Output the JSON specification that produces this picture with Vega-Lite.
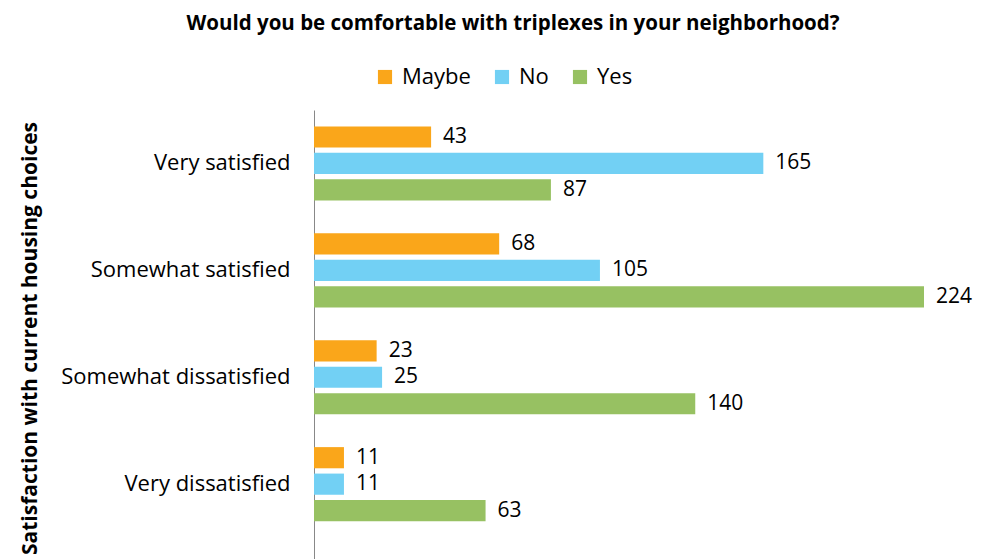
{
  "$schema": "https://vega.github.io/schema/vega-lite/v6.json",
  "autosize": "none",
  "width": 610,
  "height": 449,
  "padding": {"left": 314, "top": 110, "right": 65, "bottom": 0},
  "background": "white",
  "title": {
    "text": "Would you be comfortable with triplexes in your neighborhood?",
    "font": "Open Sans",
    "fontSize": 20.5,
    "fontWeight": "bold",
    "color": "#000000",
    "anchor": "middle",
    "frame": "group",
    "dx": -106,
    "offset": 32
  },
  "data": {
    "values": [
      {"satisfaction": "Very satisfied", "answer": "Maybe", "count": 43},
      {"satisfaction": "Very satisfied", "answer": "No", "count": 165},
      {"satisfaction": "Very satisfied", "answer": "Yes", "count": 87},
      {"satisfaction": "Somewhat satisfied", "answer": "Maybe", "count": 68},
      {"satisfaction": "Somewhat satisfied", "answer": "No", "count": 105},
      {"satisfaction": "Somewhat satisfied", "answer": "Yes", "count": 224},
      {"satisfaction": "Somewhat dissatisfied", "answer": "Maybe", "count": 23},
      {"satisfaction": "Somewhat dissatisfied", "answer": "No", "count": 25},
      {"satisfaction": "Somewhat dissatisfied", "answer": "Yes", "count": 140},
      {"satisfaction": "Very dissatisfied", "answer": "Maybe", "count": 11},
      {"satisfaction": "Very dissatisfied", "answer": "No", "count": 11},
      {"satisfaction": "Very dissatisfied", "answer": "Yes", "count": 63}
    ]
  },
  "encoding": {
    "y": {
      "field": "satisfaction",
      "type": "nominal",
      "sort": ["Very satisfied", "Somewhat satisfied", "Somewhat dissatisfied", "Very dissatisfied"],
      "scale": {"paddingInner": 0, "paddingOuter": 0.1, "align": 0},
      "axis": {
        "title": "Satisfaction with current housing choices",
        "titleFont": "Open Sans",
        "titleFontSize": 21,
        "titleFontWeight": "bold",
        "titleColor": "#000000",
        "titleAngle": -90,
        "titleAlign": "center",
        "titleBaseline": "middle",
        "titleX": -284,
        "titleY": 228,
        "labelFont": "Open Sans",
        "labelFontSize": 22,
        "labelColor": "#000000",
        "labelPadding": 24,
        "labelLimit": 400,
        "ticks": false,
        "domainColor": "#888888",
        "domainWidth": 1,
        "grid": false
      }
    },
    "yOffset": {
      "field": "answer",
      "type": "nominal",
      "sort": ["Maybe", "No", "Yes"],
      "scale": {"paddingInner": 0.2, "paddingOuter": 0.62}
    },
    "x": {
      "field": "count",
      "type": "quantitative",
      "scale": {"domain": [0, 224], "nice": false, "zero": true},
      "axis": null
    }
  },
  "layer": [
    {
      "mark": {"type": "bar"},
      "encoding": {
        "color": {
          "field": "answer",
          "type": "nominal",
          "sort": ["Maybe", "No", "Yes"],
          "scale": {"domain": ["Maybe", "No", "Yes"], "range": ["#FAA61A", "#72D0F4", "#97C162"]},
          "legend": {
            "title": null,
            "orient": "none",
            "direction": "horizontal",
            "legendX": 60,
            "legendY": -44,
            "symbolType": "square",
            "symbolSize": 200,
            "symbolStrokeWidth": 0,
            "labelFont": "Open Sans",
            "labelFontSize": 22,
            "labelColor": "#000000",
            "columnPadding": 20,
            "labelOffset": 6
          }
        }
      }
    },
    {
      "mark": {"type": "text", "align": "left", "baseline": "middle", "dx": 12, "font": "Open Sans", "fontSize": 21, "color": "#000000"},
      "encoding": {"text": {"field": "count", "type": "quantitative"}}
    }
  ],
  "config": {"view": {"stroke": null}}
}
